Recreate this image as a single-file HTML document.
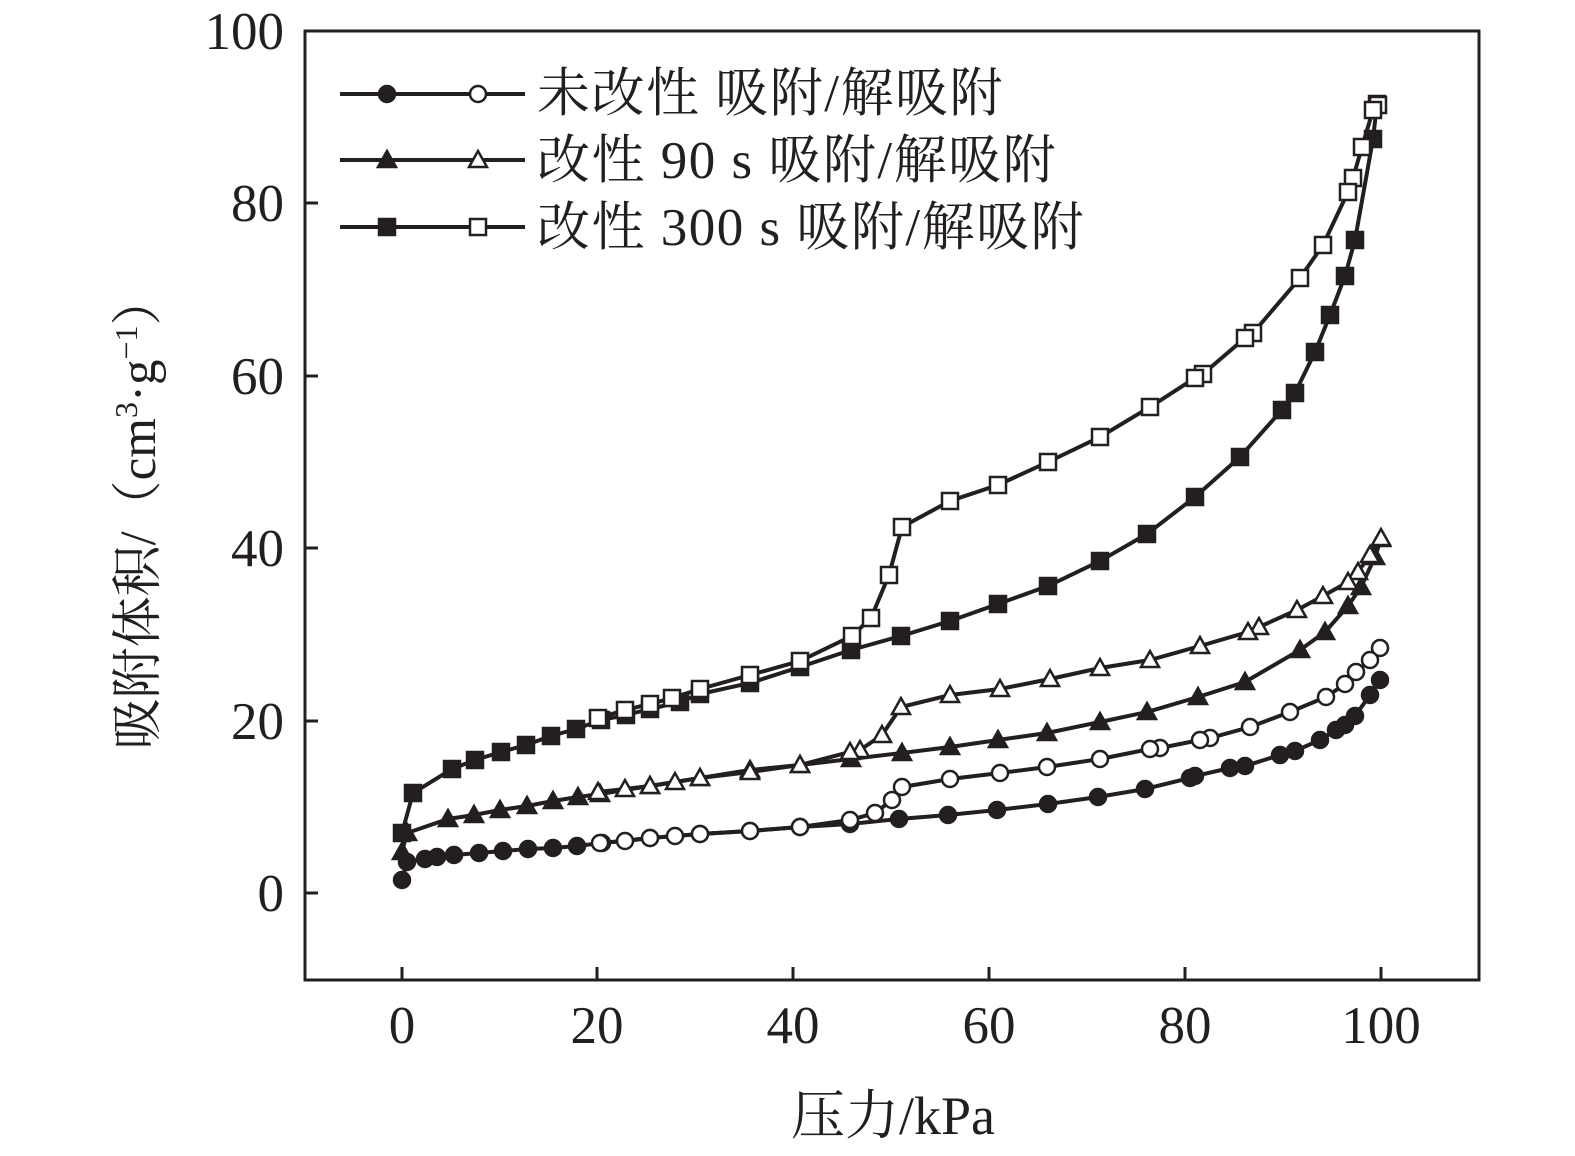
<!DOCTYPE html>
<html><head><meta charset="utf-8"><style>
html,body{margin:0;padding:0;background:#fff}
svg{display:block}
text{font-family:"Liberation Serif","Noto Serif CJK SC",serif;fill:#231f20}
</style></head><body>
<svg id="s" width="1575" height="1156" xmlns="http://www.w3.org/2000/svg">
<rect x="305" y="31" width="1174" height="949" fill="none" stroke="#231f20" stroke-width="3"/>
<g stroke="#231f20" stroke-width="3">
<line x1="402" y1="980" x2="402" y2="967"/><line x1="597" y1="980" x2="597" y2="967"/><line x1="793" y1="980" x2="793" y2="967"/><line x1="989" y1="980" x2="989" y2="967"/><line x1="1185" y1="980" x2="1185" y2="967"/><line x1="1381" y1="980" x2="1381" y2="967"/>
<line x1="305" y1="893" x2="318" y2="893"/><line x1="305" y1="721" x2="318" y2="721"/><line x1="305" y1="548" x2="318" y2="548"/><line x1="305" y1="376" x2="318" y2="376"/><line x1="305" y1="203" x2="318" y2="203"/><line x1="305" y1="31" x2="318" y2="31"/>
</g>
<g font-size="53" text-anchor="middle">
<text x="402" y="1043">0</text><text x="597" y="1043">20</text><text x="793" y="1043">40</text><text x="989" y="1043">60</text><text x="1185" y="1043">80</text><text x="1381" y="1043">100</text>
</g>
<g font-size="53" text-anchor="end">
<text x="284" y="911">0</text><text x="284" y="739">20</text><text x="284" y="566">40</text><text x="284" y="394">60</text><text x="284" y="221">80</text><text x="284" y="49">100</text>
</g>
<text x="893" y="1134" font-size="54" text-anchor="middle">压力/kPa</text>
<text transform="translate(155,512) rotate(-90)" font-size="51" text-anchor="middle">吸附体积/（cm<tspan font-size="32" dy="-18">3</tspan><tspan dy="18">·g</tspan><tspan font-size="32" dy="-18">−1</tspan><tspan dy="18">）</tspan></text>
<g font-size="53" letter-spacing="1.5">
<text x="537" y="111">未改性 吸附/解吸附</text>
<text x="537" y="178">改性 90 s 吸附/解吸附</text>
<text x="537" y="245">改性 300 s 吸附/解吸附</text>
</g>
<g id="d"></g>
</svg>
<script>
var S={
ca:[[402,880],[407,862],[425,859],[437,857],[454,855],[479,853],[503,851],[528,849],[553,848],[577,846],[602,843],[650,838],[700,834],[750,831],[800,827],[850,824],[899,819],[948,815],[997,810],[1048,804],[1098,797],[1145,789],[1190,778],[1195,776],[1230,768],[1245,766],[1280,755],[1295,751],[1320,740],[1336,730],[1345,725],[1355,716],[1370,695],[1380,680]],
cd:[[1380,648],[1370,660],[1356,672],[1345,684],[1326,697],[1290,712],[1250,727],[1210,738],[1200,740],[1160,748],[1150,749],[1100,759],[1047,767],[1000,773],[950,779],[902,787],[892,800],[875,813],[850,820],[800,827],[750,831],[700,834],[675,836],[650,838],[625,841],[600,843]],
ta:[[402,852],[407,833],[448,819],[474,815],[500,810],[527,806],[553,801],[578,797],[600,794],[650,786],[700,778],[750,770],[800,765],[851,759],[902,753],[950,747],[998,740],[1047,733],[1100,722],[1147,712],[1198,697],[1245,682],[1300,650],[1325,632],[1348,606],[1361,587],[1375,557],[1381,539]],
td:[[1381,538],[1370,555],[1358,572],[1348,582],[1323,596],[1297,610],[1259,627],[1248,632],[1200,646],[1150,660],[1100,668],[1050,679],[1000,689],[950,695],[901,707],[882,735],[860,750],[850,752],[800,765],[750,772],[700,778],[675,782],[650,786],[625,789],[598,792]],
sa:[[402,833],[413,793],[452,769],[475,760],[501,752],[526,745],[551,736],[576,729],[601,720],[626,715],[650,709],[680,702],[700,694],[750,683],[800,667],[851,650],[901,636],[950,621],[998,604],[1048,586],[1100,561],[1147,534],[1195,497],[1240,457],[1282,410],[1295,393],[1315,352],[1330,315],[1345,276],[1355,240],[1373,139],[1377,104]],
sd:[[1378,105],[1373,110],[1362,147],[1353,178],[1348,192],[1323,245],[1300,278],[1253,333],[1245,338],[1203,374],[1195,378],[1150,407],[1100,437],[1048,462],[998,485],[950,501],[902,527],[889,575],[871,618],[852,636],[800,661],[750,675],[700,689],[672,698],[650,704],[625,710],[598,718]]
};
var g=document.getElementById('d'),h='',C='#231f20';
function line(p){h+='<polyline fill="none" stroke="'+C+'" stroke-width="4" points="'+p.map(function(a){return a.join(',')}).join(' ')+'"/>';}
function mk(t,x,y,f){var fill=f?C:'#fff',st='stroke="'+C+'" stroke-width="2.5" fill="'+fill+'"';
 if(t=='c')h+='<circle cx="'+x+'" cy="'+y+'" r="8" '+st+'/>';
 else if(t=='s')h+='<rect x="'+(x-8)+'" y="'+(y-8)+'" width="16" height="16" '+st+'/>';
 else h+='<polygon points="'+x+','+(y-9)+' '+(x-9)+','+(y+7)+' '+(x+9)+','+(y+7)+'" '+st+'/>';}
for(var k in S)line(S[k]);
for(var k in S){var f=k[1]=='a';S[k].forEach(function(a){mk(k[0],a[0],a[1],f)});}
[[94,'c'],[160,'t'],[227,'s']].forEach(function(r){h+='<line x1="340" y1="'+r[0]+'" x2="525" y2="'+r[0]+'" stroke="'+C+'" stroke-width="4"/>';mk(r[1],387,r[0],true);mk(r[1],478,r[0],false);});
g.innerHTML=h;
</script>
</body></html>
